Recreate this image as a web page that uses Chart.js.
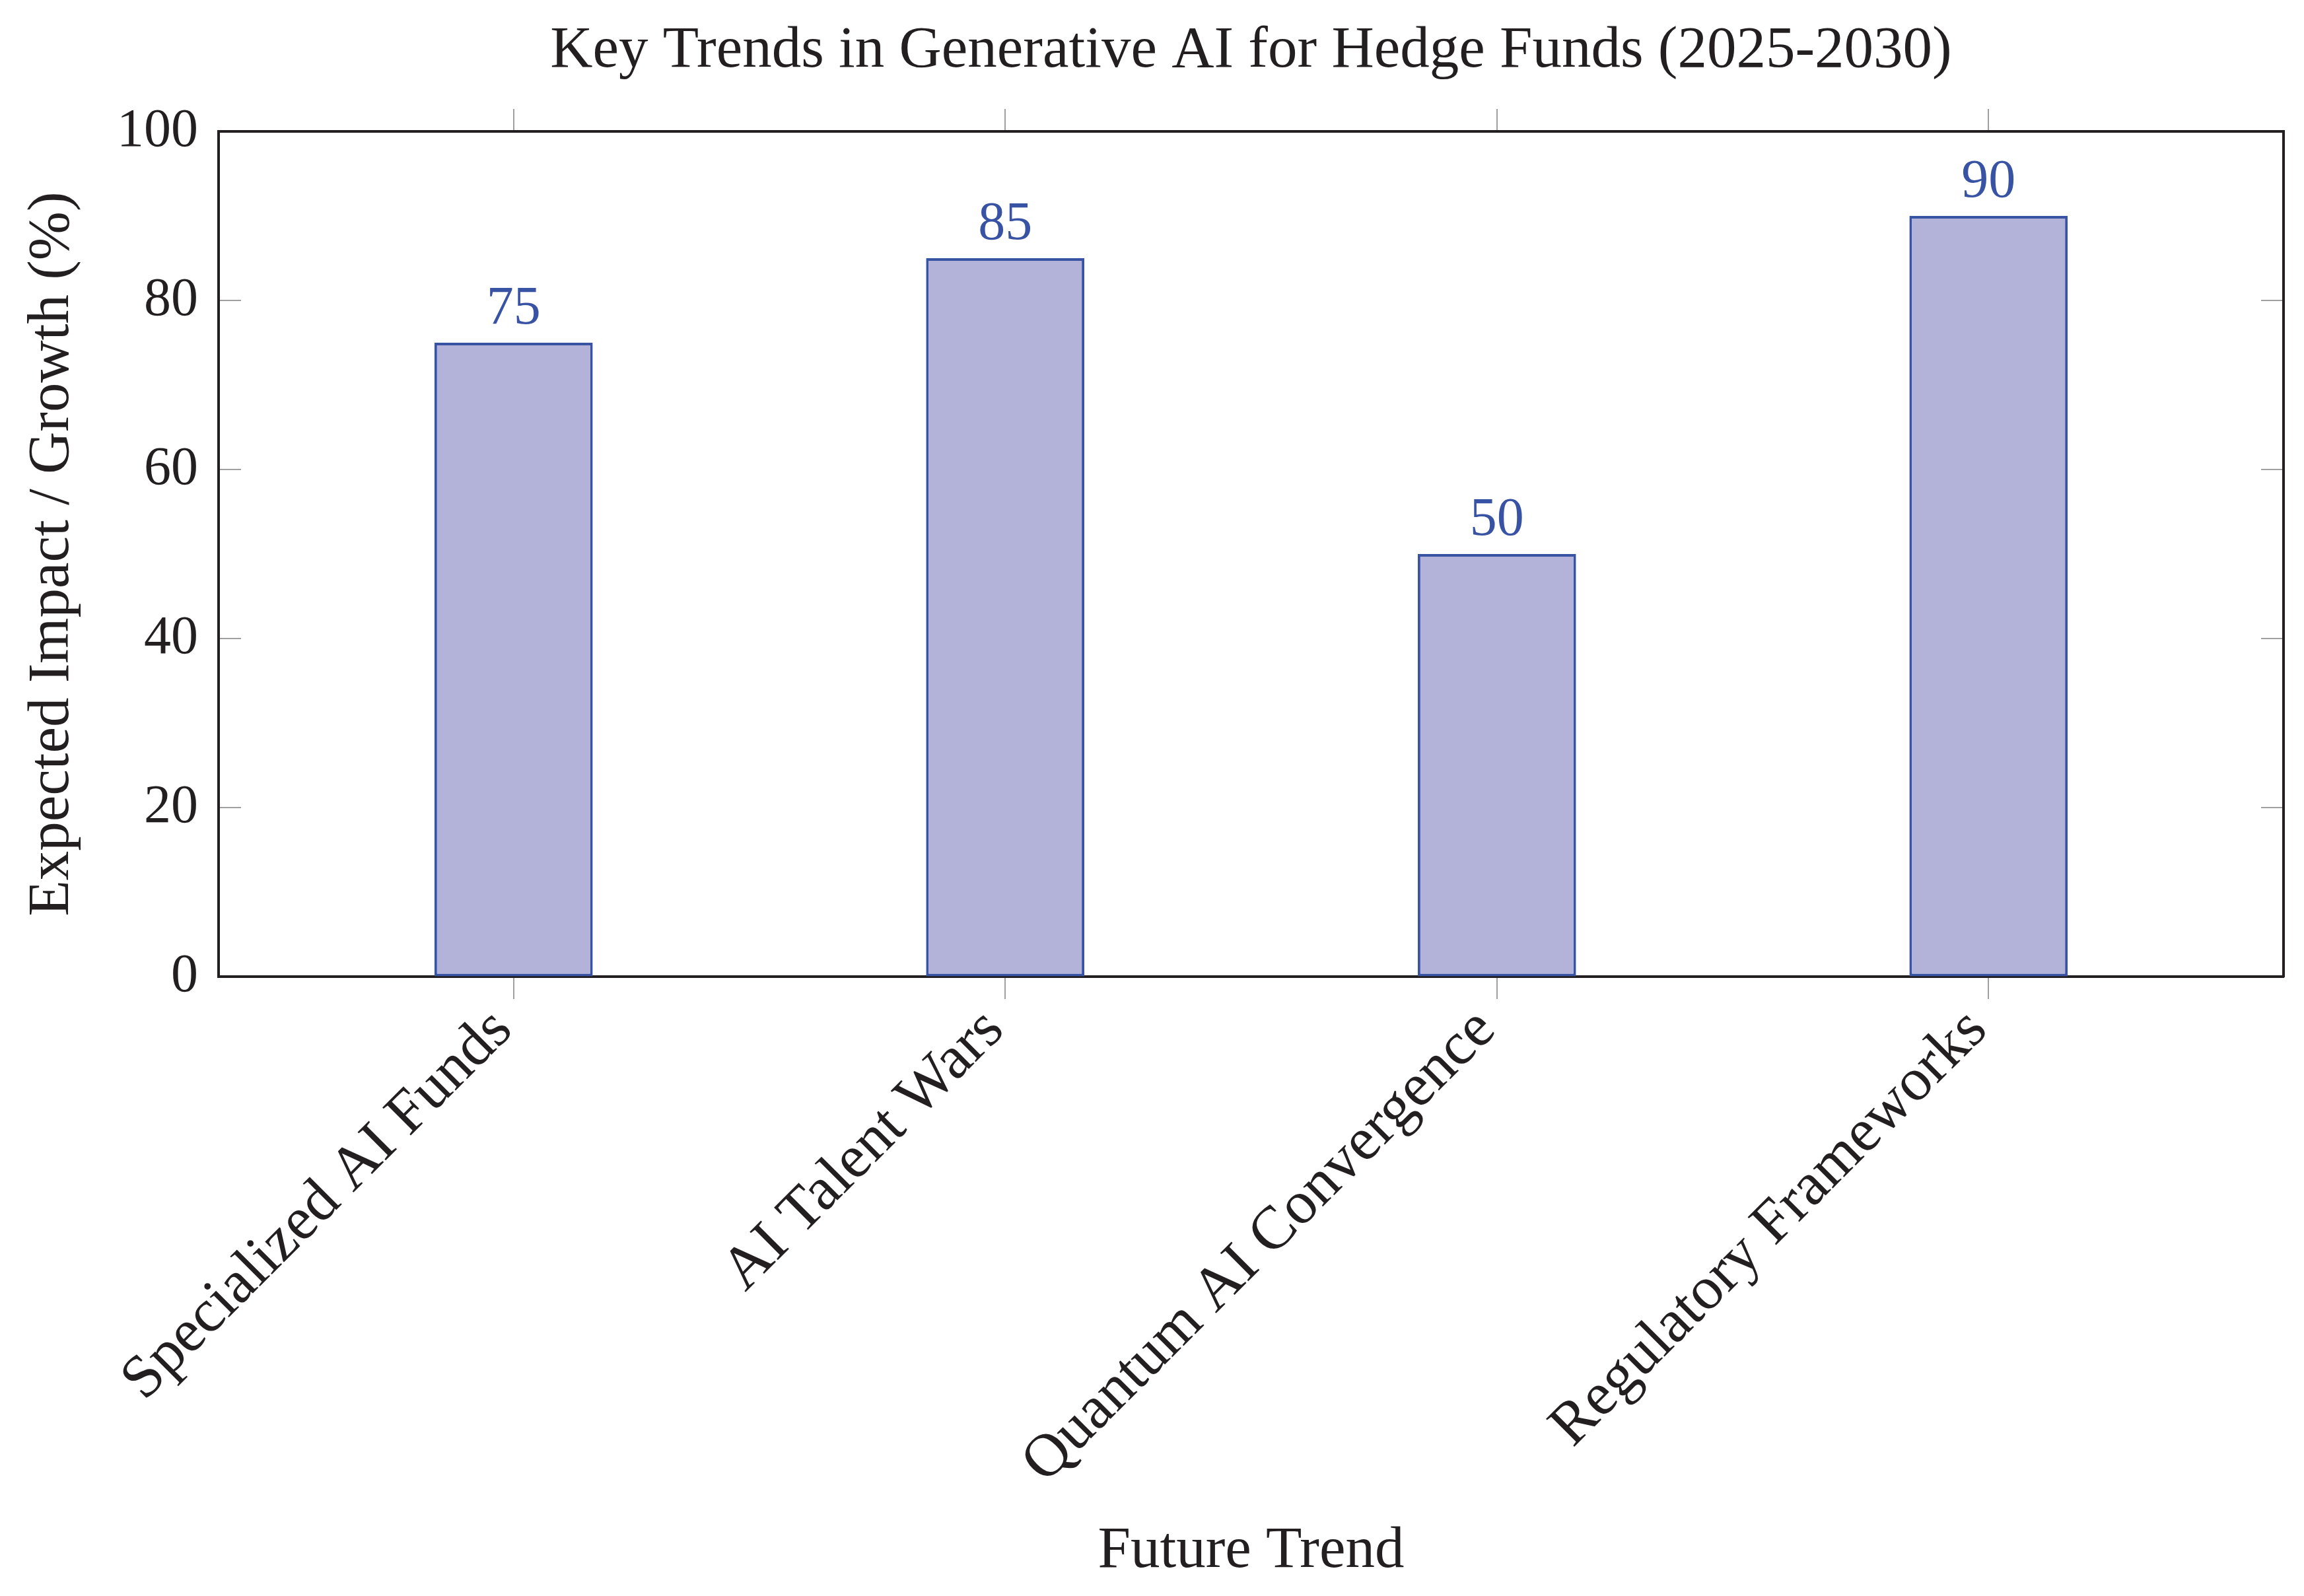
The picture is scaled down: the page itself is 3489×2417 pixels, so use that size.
<!DOCTYPE html>
<html><head><meta charset="utf-8">
<script src="https://cdn.jsdelivr.net/npm/chart.js@4"></script>
<style>html,body{margin:0;padding:0;background:#fff}</style>
</head><body>
<canvas id="c" width="3489" height="2417" style="width:3489px;height:2417px;display:block"></canvas>
<script>
const categories = ['Specialized AI Funds', 'AI Talent Wars', 'Quantum AI Convergence', 'Regulatory Frameworks'];
const values = [75, 85, 50, 90];
const yTickValues = [0, 20, 40, 60, 80, 100];
const chartTitle = 'Key Trends in Generative AI for Hedge Funds (2025-2030)';
const xTitle = 'Future Trend';
const yTitle = 'Expected Impact / Growth (%)';

const FONT = 'Liberation Serif';
const FS_TITLE = 89;
const FS_XTICK = 92;
const FS_NUM = 82;
const TEXT = '#231f20';
const BLUE = '#3953a4';
const FILL = '#b3b3d9';
const TICKC = '#a0a0a0';

const catTicks = (scale) => { scale.ticks = categories.map((c, i) => ({ value: i })); };
const yTicksFn = (scale) => { scale.ticks = yTickValues.map(v => ({ value: v })); };

const innerTicks = {
  id: 'innerTicks',
  beforeDraw(chart) {
    const { ctx, chartArea } = chart;
    const ys = chart.scales.y;
    ctx.save();
    ctx.strokeStyle = TICKC;
    ctx.lineWidth = 2;
    ys.ticks.forEach(t => {
      const p = ys.getPixelForValue(t.value);
      ctx.beginPath();
      ctx.moveTo(chartArea.left, p); ctx.lineTo(chartArea.left + 34, p);
      ctx.moveTo(chartArea.right, p); ctx.lineTo(chartArea.right - 34, p);
      ctx.stroke();
    });
    ctx.restore();
  }
};

const valueLabels = {
  id: 'valueLabels',
  afterDatasetsDraw(chart) {
    const { ctx } = chart;
    const meta = chart.getDatasetMeta(0);
    ctx.save();
    ctx.fillStyle = BLUE;
    ctx.font = FS_NUM + 'px "' + FONT + '"';
    ctx.textAlign = 'center';
    ctx.textBaseline = 'alphabetic';
    meta.data.forEach((bar, i) => {
      ctx.fillText(String(values[i]), bar.x, bar.y - 29);
    });
    ctx.restore();
  }
};

const gridX = { display: true, offset: false, drawOnChartArea: false, drawTicks: true, tickLength: 34, color: TICKC, lineWidth: 2 };

new Chart(document.getElementById('c'), {
  type: 'bar',
  data: {
    datasets: [{
      data: values.map((v, i) => ({ x: i, y: v })),
      backgroundColor: FILL,
      borderColor: BLUE,
      borderWidth: 4,
      borderSkipped: false,
      barPercentage: 0.322,
      categoryPercentage: 1.0,
      xAxisID: 'x',
      yAxisID: 'y'
    }]
  },
  options: {
    responsive: false,
    devicePixelRatio: 1,
    animation: false,
    layout: { padding: 0, autoPadding: false },
    plugins: { legend: { display: false }, title: { display: false }, tooltip: { enabled: false } },
    scales: {
      x: {
        type: 'linear', position: 'bottom', min: -0.6, max: 3.6, offset: false,
        afterBuildTicks: catTicks,
        afterFit: (s) => { s.height = 938; },
        ticks: {
          autoSkip: false, maxRotation: 45, minRotation: 45, padding: 0, labelOffset: -16,
          color: TEXT, font: { family: FONT, size: FS_XTICK, lineHeight: 1.0 },
          callback: (v) => categories[v] !== undefined ? categories[v] : ''
        },
        grid: gridX,
        border: { display: true, color: TEXT, width: 4 },
        title: { display: true, text: xTitle, color: TEXT, font: { family: FONT, size: FS_TITLE, lineHeight: 1.2 }, padding: { top: 0, bottom: 14 } }
      },
      x2: {
        type: 'linear', position: 'top', min: -0.6, max: 3.6, offset: false,
        afterBuildTicks: catTicks,
        afterFit: (s) => { s.height = 199; },
        ticks: { display: false },
        grid: gridX,
        border: { display: true, color: TEXT, width: 4 },
        title: { display: true, text: chartTitle, color: TEXT, font: { family: FONT, size: FS_TITLE, lineHeight: 1.2 }, padding: { top: 24, bottom: 0 } }
      },
      y: {
        type: 'linear', position: 'left', min: 0, max: 100,
        afterBuildTicks: yTicksFn,
        afterFit: (s) => { s.width = 331; },
        ticks: { padding: 31, color: TEXT, font: { family: FONT, size: FS_NUM } },
        grid: { display: true, drawOnChartArea: false, drawTicks: false },
        border: { display: true, color: TEXT, width: 4 },
        title: { display: true, text: yTitle, color: TEXT, font: { family: FONT, size: FS_TITLE, lineHeight: 1.2 }, padding: { top: 26, bottom: 0 } }
      },
      y2: {
        type: 'linear', position: 'right', min: 0, max: 100,
        afterFit: (s) => { s.width = 31; },
        ticks: { display: false },
        grid: { display: true, drawOnChartArea: false, drawTicks: false },
        border: { display: true, color: TEXT, width: 4 }
      }
    }
  },
  plugins: [innerTicks, valueLabels]
});
</script>
</body></html>
